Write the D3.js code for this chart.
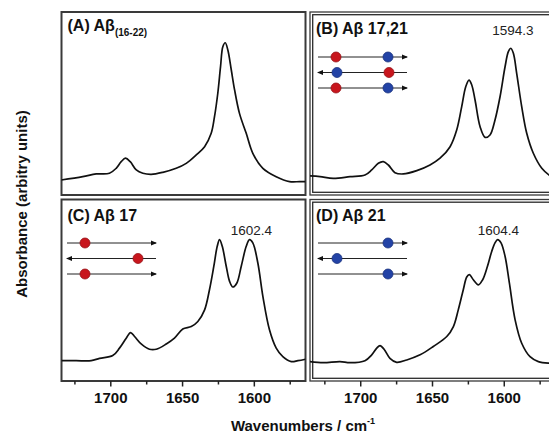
<!DOCTYPE html>
<html lang="en">
<head>
<meta charset="UTF-8">
<title>Amide I spectra</title>
<script src="https://d3js.org/d3.v7.min.js"></script>
<style>
  body { margin: 0; background: #fff; }
  svg { display: block; font-family: "Liberation Sans", Arial, sans-serif; }
  .axis .domain { display: none; }
  .axis line { stroke: #222; stroke-width: 1.5; }
  .axis text { font-size: 15px; font-weight: bold; fill: #111; }
</style>
</head>
<body>
<div id="chart"></div>
<script>
// spectra (wavenumber, normalised absorbance)
const waveA = [1734.2,1719.2,1709.8,1700.6,1695.9,1692.4,1689.4,1686.1,1681.9,1677.3,1671.5,1663.4,1654.1,1647.1,1640.1,1634.3,1629.7,1627.4,1625.1,1623.2,1621.6,1619.9,1618.1,1615.7,1613.4,1610,1605.3,1600.7,1593.7,1584.4,1575.1,1568.1,1564];
const absA  = [0.082,0.100,0.115,0.119,0.146,0.182,0.201,0.182,0.137,0.119,0.113,0.124,0.146,0.173,0.219,0.264,0.337,0.428,0.556,0.701,0.810,0.832,0.792,0.683,0.574,0.446,0.337,0.228,0.146,0.100,0.073,0.073,0.073];

const waveB = [1735,1728,1718.8,1707.1,1696.7,1692,1687.4,1683.9,1680.4,1675.8,1670,1660.6,1651.4,1644.4,1637.4,1632.8,1629.3,1626.5,1624.2,1622.3,1620,1616.5,1613,1609.6,1606.1,1602.6,1599.1,1596.8,1595.1,1593.3,1591,1587.5,1584,1579.4,1573.5,1568.4,1565];
const absB  = [0.104,0.100,0.091,0.100,0.109,0.137,0.173,0.182,0.164,0.122,0.115,0.133,0.164,0.201,0.264,0.355,0.483,0.592,0.628,0.601,0.519,0.373,0.315,0.328,0.410,0.537,0.701,0.783,0.802,0.774,0.665,0.483,0.337,0.228,0.146,0.109,0.095];

const waveC = [1734.2,1723.8,1713.3,1707.5,1698.3,1693.6,1688.9,1685.9,1683.1,1678.5,1672.7,1668,1661,1655.3,1649.5,1643.6,1639,1634.3,1630.9,1627.9,1625.5,1623.9,1622,1619.2,1616.9,1614.6,1611.8,1608.8,1605.3,1603,1600.7,1597.2,1593.7,1589.1,1584.4,1579.8,1573.9,1569.3,1564];
const absC  = [0.112,0.112,0.112,0.125,0.140,0.181,0.236,0.267,0.245,0.204,0.175,0.175,0.204,0.236,0.286,0.300,0.328,0.392,0.503,0.631,0.742,0.779,0.742,0.631,0.549,0.518,0.540,0.631,0.742,0.779,0.761,0.650,0.466,0.282,0.181,0.134,0.107,0.112,0.120];

const waveD = [1735,1725.7,1714.1,1707.1,1696.7,1692,1688.5,1686.2,1683.4,1679.3,1674.6,1667.6,1658.3,1649.1,1639.7,1635.1,1631.7,1628.2,1625.8,1624,1621.2,1617.7,1614.7,1611.4,1608.4,1606.1,1604.2,1601.9,1599.1,1596.1,1592.1,1587.5,1581.7,1575.9,1568.4,1565];
const absD  = [0.107,0.101,0.107,0.101,0.112,0.144,0.181,0.195,0.175,0.125,0.103,0.116,0.144,0.190,0.245,0.300,0.392,0.503,0.573,0.586,0.558,0.530,0.558,0.631,0.714,0.761,0.779,0.761,0.687,0.540,0.337,0.208,0.134,0.107,0.098,0.098];

const panelTitles = ["(A) A\u03b2", "(B) A\u03b2 17,21", "(C) A\u03b2 17", "(D) A\u03b2 21"];
const titleSub = ["(16-22)", "", "", ""];
const peakLabels = ["", "1594.3", "1602.4", "1604.4"];
const peakAt = [null, 1594.3, 1602.4, 1604.4];
const majorTicks = [1700, 1650, 1600];
const minorTicks = [1725, 1675, 1625, 1575];
const xTitle = "Wavenumbers / cm";
const yTitle = "Absorbance (arbitry units)";

// strand cartoon: direction of each strand, labelled residues per panel
const strandDir = [1, -1, 1];
const labelled = [[], [17, 21], [17], [21]];
const residueColor = {17: "#c8161d", 21: "#2343a6"};

const W = 549, H = 437;
const pw = 244;
const cols = [61.5, 310];
const rows = [[12, 195], [199.5, 381]];
const domains = [[1734, 1564], [1735, 1565]];

const svg = d3.select("#chart").append("svg")
  .attr("width", W).attr("height", H);

const panels = [
  {wave: waveA, abs: absA, c: 0, r: 0},
  {wave: waveB, abs: absB, c: 1, r: 0},
  {wave: waveC, abs: absC, c: 0, r: 1},
  {wave: waveD, abs: absD, c: 1, r: 1}
];

panels.forEach((p, i) => {
  const x0 = cols[p.c], y0 = rows[p.r][0], y1 = rows[p.r][1];
  const x = d3.scaleLinear().domain(domains[p.c]).range([x0, x0 + pw]);
  const y = d3.scaleLinear().domain([0, 1]).range([y1, y0]);
  const g = svg.append("g");

  g.append("clipPath").attr("id", "clip" + i)
    .append("rect").attr("x", x0).attr("y", y0).attr("width", pw).attr("height", y1 - y0);

  // frame (right column has a double border)
  g.append("rect")
    .attr("x", x0).attr("y", y0).attr("width", pw).attr("height", y1 - y0)
    .attr("fill", "none").attr("stroke", "#3a3a3a").attr("stroke-width", p.c ? 1.3 : 2);
  if (p.c) {
    g.append("rect")
      .attr("x", x0 + 2.7).attr("y", y0 + 2.7).attr("width", pw - 5.4).attr("height", y1 - y0 - 5.4)
      .attr("fill", "none").attr("stroke", "#2a2a2a").attr("stroke-width", 1.3);
  }

  const line = d3.line()
    .x((d, k) => x(p.wave[k]))
    .y(d => y(d))
    .curve(d3.curveCatmullRom.alpha(0.5));

  g.append("path")
    .datum(p.abs)
    .attr("clip-path", `url(#clip${i})`)
    .attr("d", line)
    .attr("fill", "none")
    .attr("stroke", "#111")
    .attr("stroke-width", 1.7);

  // panel title
  const t = g.append("text")
    .attr("x", x0 + 6).attr("y", y0 + (p.r ? 21.5 : (p.c ? 22 : 19)))
    .attr("font-size", 16).attr("font-weight", "bold").attr("fill", "#111")
    .text(panelTitles[i]);
  if (titleSub[i]) {
    t.append("tspan").attr("font-size", 10).attr("dy", 4.5).text(titleSub[i]);
  }

  if (peakLabels[i]) {
    g.append("text")
      .attr("x", x(peakAt[i]) + 1).attr("y", y0 + (p.r ? 35 : 23))
      .attr("text-anchor", "middle").attr("font-size", 13.5).attr("fill", "#222")
      .text(peakLabels[i]);
  }

  // strand cartoon
  if (labelled[i].length) {
    const sx0 = x0 + (p.c ? 8 : 5.5), len = 89;
    const sy = d3.scaleLinear().domain([0, 2]).range([y0 + (p.r ? 43.5 : 45), y0 + (p.r ? 74.5 : 76)]);
    const res = d3.scaleLinear().domain([17, 21]).range([18, 70]);
    strandDir.forEach((dir, k) => {
      const yy = sy(k);
      g.append("line").attr("x1", sx0).attr("x2", sx0 + len).attr("y1", yy).attr("y2", yy)
        .attr("stroke", "#222").attr("stroke-width", 1);
      const tip = dir > 0 ? sx0 + len + 1 : sx0 - 1;
      g.append("path")
        .attr("d", `M${tip},${yy} l${-dir * 6},-2.6 l0,5.2 z`)
        .attr("fill", "#111");
      labelled[i].forEach(rn => {
        const off = dir > 0 ? res(rn) : len - res(rn);
        g.append("circle").attr("cx", sx0 + off).attr("cy", yy).attr("r", 5)
          .attr("fill", residueColor[rn]).attr("stroke", d3.color(residueColor[rn]).darker(0.8)).attr("stroke-width", 0.8);
      });
    });
  }

  // ticks on bottom row only
  if (p.r === 1) {
    svg.append("g").attr("class", "axis")
      .attr("transform", `translate(0,${y1})`)
      .call(d3.axisBottom(x).tickValues(minorTicks).tickSize(3.5).tickFormat(""));
    svg.append("g").attr("class", "axis")
      .attr("transform", `translate(0,${y1})`)
      .call(d3.axisBottom(x).tickValues(majorTicks).tickSize(5.5).tickPadding(6).tickFormat(d3.format("d")));
  }
});

// axis titles
const xt = svg.append("text")
  .attr("x", 303).attr("y", 431)
  .attr("text-anchor", "middle").attr("font-size", 15).attr("font-weight", "bold").attr("fill", "#111")
  .text(xTitle);
xt.append("tspan").attr("font-size", 9).attr("dy", -7).text("-1");

svg.append("text")
  .attr("transform", "translate(27,204) rotate(-90)")
  .attr("text-anchor", "middle").attr("font-size", 15).attr("font-weight", "bold").attr("fill", "#111")
  .text(yTitle);
</script>
</body>
</html>
